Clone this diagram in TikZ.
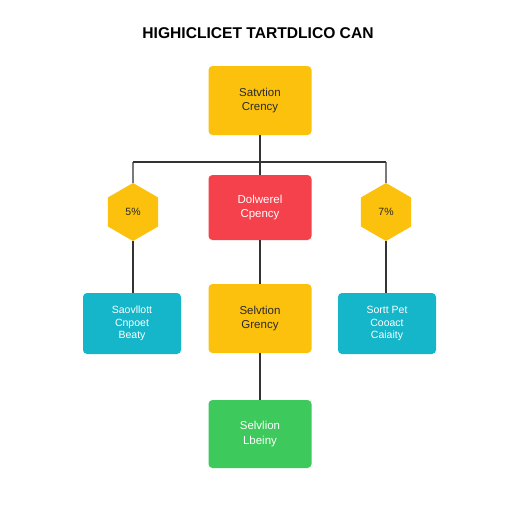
\documentclass[tikz,border=0pt]{standalone}
\usepackage{fontspec}
\setmainfont{Liberation Sans}
\usetikzlibrary{shapes.geometric}
\definecolor{cyel}{HTML}{FBC10C}
\definecolor{cred}{HTML}{F4414B}
\definecolor{cteal}{HTML}{15B6CA}
\definecolor{cgreen}{HTML}{3DC95B}
\definecolor{cline}{HTML}{333333}
\definecolor{ctext}{HTML}{2A2A2A}
\begin{document}
\begin{tikzpicture}[x=1pt,y=-1pt,
  box/.style={rounded corners=4pt, minimum width=103pt, minimum height=69pt, inner sep=0pt, align=center, font=\fontsize{11.5}{14.5}\selectfont},
  sbox/.style={rounded corners=4pt, minimum width=98pt, minimum height=61pt, inner sep=0pt, align=center, font=\fontsize{10.5}{12.5}\selectfont, text=white, fill=cteal},
  hexa/.style={regular polygon, regular polygon sides=6, shape border rotate=30, minimum size=58pt, inner sep=0pt, fill=cyel, font=\fontsize{10.5}{12}\selectfont, text=ctext},
  conn/.style={draw=cline, line width=1.3pt}]
\fill[white] (0,0) rectangle (512,512);
\useasboundingbox (0,0) rectangle (512,512);
\node (title) at (258,33) {\fontsize{15.6}{18}\selectfont\bfseries HIGHICLICET TARTDLICO CAN};
\node[box, fill=cyel, text=ctext] (top) at (260,100.5) {Satvtion\\Crency};
\node[box, fill=cred, text=white, minimum height=65pt] (red) at (260,207.5) {Dolwerel\\Cpency};
\node[box, fill=cyel, text=ctext] (mid) at (260,318.5) {Selvtion\\Grency};
\node[box, fill=cgreen, text=white, minimum height=68pt] (green) at (260,434) {Selvlion\\Lbeiny};
\node[hexa] (hl) at (133,212) {5\%};
\node[hexa] (hr) at (386,212) {7\%};
\node[sbox] (tl) at (132,323.5) {Saovllott\\Cnpoet\\Beaty};
\node[sbox] (tr) at (387,323.5) {Sortt Pet\\Cooact\\Caiaity};
\coordinate (j) at (260,162);
\coordinate (jl) at (133,162);
\coordinate (jr) at (386,162);
\draw[conn] (top.south) -- (j);
\draw[conn] (jl) -- (jr);
\draw[conn] (jl) -- (hl.north);
\draw[conn] (jr) -- (hr.north);
\draw[conn] (j) -- (red.north);
\draw[conn] (hl.south) -- (hl.south |- tl.north);
\draw[conn] (hr.south) -- (hr.south |- tr.north);
\draw[conn] (red.south) -- (mid.north);
\draw[conn] (mid.south) -- (green.north);
\end{tikzpicture}
\end{document}
